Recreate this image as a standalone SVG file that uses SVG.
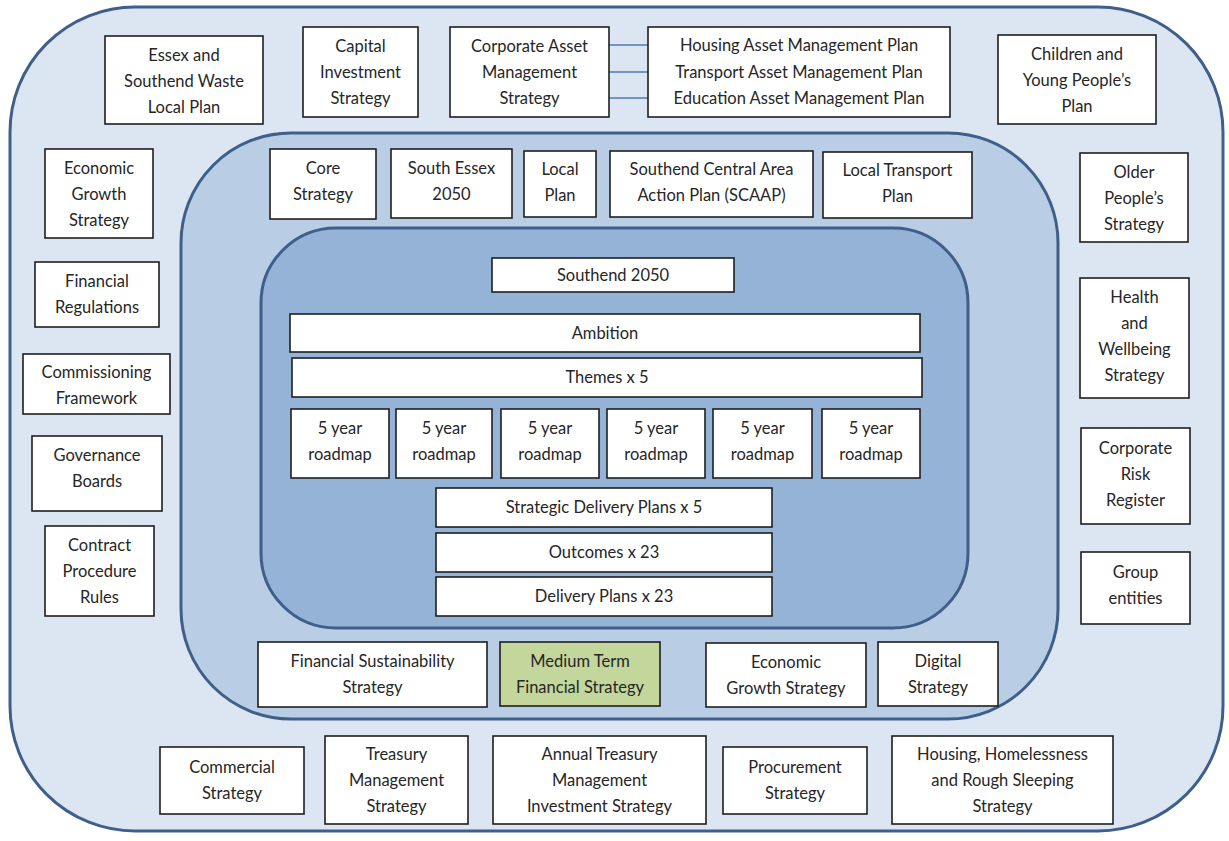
<svg xmlns="http://www.w3.org/2000/svg" width="1229" height="841" viewBox="0 0 1229 841">
<style>
.bg{fill:#ffffff}
.region{stroke:#3f5f8a;stroke-width:3}
.outer{fill:#dce6f2}
.middle{fill:#b9cde5}
.inner{fill:#95b3d7}
.box{fill:#ffffff;stroke:#1e1e1e;stroke-width:1.6}
.green{fill:#c3d69b}
text{font-family:Lato,"Liberation Sans",sans-serif;font-size:16.5px;fill:#262626;text-anchor:middle}
.conn{stroke:#4a7ab5;stroke-width:1.6;fill:none}
</style>
<rect class="bg" x="0" y="0" width="1229" height="841"/>
<g id="regions">
<rect class="region outer" x="10" y="7" width="1213" height="824" rx="125" ry="125"/>
<rect class="region middle" x="181" y="133" width="877" height="586" rx="110" ry="110"/>
<rect class="region inner" x="261" y="228" width="707" height="400" rx="75" ry="75"/>
</g>
<g id="connectors">
<line class="conn" x1="609" y1="45" x2="648" y2="45"/>
<line class="conn" x1="609" y1="72" x2="648" y2="72"/>
<line class="conn" x1="609" y1="98" x2="648" y2="98"/>
</g>
<g id="essex"><rect class="box" x="105" y="36" width="158" height="88"/><text x="184" y="61">Essex and</text><text x="184" y="87">Southend Waste</text><text x="184" y="113">Local Plan</text></g>
<g id="capital"><rect class="box" x="303" y="27" width="115" height="90"/><text x="360.5" y="52">Capital</text><text x="360.5" y="78">Investment</text><text x="360.5" y="104">Strategy</text></g>
<g id="corporate-asset"><rect class="box" x="450" y="27" width="159" height="90"/><text x="529.5" y="52">Corporate Asset</text><text x="529.5" y="78">Management</text><text x="529.5" y="104">Strategy</text></g>
<g id="asset-plans"><rect class="box" x="648" y="27" width="302" height="90"/><text x="799" y="51">Housing Asset Management Plan</text><text x="799" y="78">Transport Asset Management Plan</text><text x="799" y="104">Education Asset Management Plan</text></g>
<g id="children"><rect class="box" x="998" y="35" width="158" height="89"/><text x="1077" y="60">Children and</text><text x="1077" y="86">Young People’s</text><text x="1077" y="112">Plan</text></g>
<g id="economic-left"><rect class="box" x="45" y="149" width="108" height="89"/><text x="99" y="174">Economic</text><text x="99" y="200">Growth</text><text x="99" y="226">Strategy</text></g>
<g id="financial-regulations"><rect class="box" x="35" y="262" width="124" height="65"/><text x="97" y="287">Financial</text><text x="97" y="313">Regulations</text></g>
<g id="commissioning"><rect class="box" x="23" y="354" width="147" height="60"/><text x="96.5" y="378">Commissioning</text><text x="96.5" y="404">Framework</text></g>
<g id="governance"><rect class="box" x="32" y="436" width="130" height="75"/><text x="97" y="461">Governance</text><text x="97" y="487">Boards</text></g>
<g id="contract"><rect class="box" x="45" y="526" width="109" height="90"/><text x="99.5" y="551">Contract</text><text x="99.5" y="577">Procedure</text><text x="99.5" y="603">Rules</text></g>
<g id="older"><rect class="box" x="1080" y="153" width="108" height="89"/><text x="1134" y="178">Older</text><text x="1134" y="204">People’s</text><text x="1134" y="230">Strategy</text></g>
<g id="health"><rect class="box" x="1080" y="278" width="109" height="120"/><text x="1134.5" y="303">Health</text><text x="1134.5" y="329">and</text><text x="1134.5" y="355">Wellbeing</text><text x="1134.5" y="381">Strategy</text></g>
<g id="risk"><rect class="box" x="1081" y="428" width="109" height="96"/><text x="1135.5" y="454">Corporate</text><text x="1135.5" y="480">Risk</text><text x="1135.5" y="506">Register</text></g>
<g id="group"><rect class="box" x="1081" y="552" width="109" height="72"/><text x="1135.5" y="578">Group</text><text x="1135.5" y="604">entities</text></g>
<g id="commercial"><rect class="box" x="160" y="747" width="144" height="67"/><text x="232" y="773">Commercial</text><text x="232" y="799">Strategy</text></g>
<g id="treasury"><rect class="box" x="325" y="736" width="143" height="88"/><text x="396.5" y="760">Treasury</text><text x="396.5" y="786">Management</text><text x="396.5" y="812">Strategy</text></g>
<g id="annual-treasury"><rect class="box" x="493" y="736" width="213" height="88"/><text x="599.5" y="760">Annual Treasury</text><text x="599.5" y="786">Management</text><text x="599.5" y="812">Investment Strategy</text></g>
<g id="procurement"><rect class="box" x="723" y="747" width="144" height="67"/><text x="795" y="773">Procurement</text><text x="795" y="799">Strategy</text></g>
<g id="housing"><rect class="box" x="892" y="736" width="221" height="88"/><text x="1002.5" y="760">Housing, Homelessness</text><text x="1002.5" y="786">and Rough Sleeping</text><text x="1002.5" y="812">Strategy</text></g>
<g id="core"><rect class="box" x="270" y="149" width="106" height="70"/><text x="323" y="174">Core</text><text x="323" y="200">Strategy</text></g>
<g id="south-essex"><rect class="box" x="391" y="149" width="121" height="69"/><text x="451.5" y="174">South Essex</text><text x="451.5" y="200">2050</text></g>
<g id="local-plan"><rect class="box" x="524" y="151" width="72" height="66"/><text x="560" y="175">Local</text><text x="560" y="201">Plan</text></g>
<g id="scaap"><rect class="box" x="610" y="151" width="203" height="66"/><text x="711.5" y="175">Southend Central Area</text><text x="711.5" y="201">Action Plan (SCAAP)</text></g>
<g id="ltp"><rect class="box" x="823" y="152" width="149" height="66"/><text x="897.5" y="176">Local Transport</text><text x="897.5" y="202">Plan</text></g>
<g id="fin-sustainability"><rect class="box" x="258" y="642" width="229" height="65"/><text x="372.5" y="667">Financial Sustainability</text><text x="372.5" y="693">Strategy</text></g>
<g id="mtfs"><rect class="box green" x="500" y="642" width="160" height="64"/><text x="580" y="667">Medium Term</text><text x="580" y="693">Financial Strategy</text></g>
<g id="economic-mid"><rect class="box" x="706" y="643" width="160" height="64"/><text x="786" y="668">Economic</text><text x="786" y="694">Growth Strategy</text></g>
<g id="digital"><rect class="box" x="878" y="642" width="120" height="64"/><text x="938" y="667">Digital</text><text x="938" y="693">Strategy</text></g>
<g id="southend-2050"><rect class="box" x="492" y="258" width="242" height="34"/><text x="613" y="281">Southend 2050</text></g>
<g id="ambition"><rect class="box" x="290" y="314" width="630" height="38"/><text x="605" y="339">Ambition</text></g>
<g id="themes"><rect class="box" x="292" y="358" width="630" height="39"/><text x="607" y="383">Themes x 5</text></g>
<g id="roadmap-1"><rect class="box" x="291" y="409" width="98" height="69"/><text x="340" y="434">5 year</text><text x="340" y="460">roadmap</text></g>
<g id="roadmap-2"><rect class="box" x="396" y="409" width="96" height="69"/><text x="444" y="434">5 year</text><text x="444" y="460">roadmap</text></g>
<g id="roadmap-3"><rect class="box" x="501" y="409" width="98" height="69"/><text x="550" y="434">5 year</text><text x="550" y="460">roadmap</text></g>
<g id="roadmap-4"><rect class="box" x="607" y="409" width="98" height="69"/><text x="656" y="434">5 year</text><text x="656" y="460">roadmap</text></g>
<g id="roadmap-5"><rect class="box" x="713" y="409" width="99" height="69"/><text x="762.5" y="434">5 year</text><text x="762.5" y="460">roadmap</text></g>
<g id="roadmap-6"><rect class="box" x="822" y="409" width="98" height="69"/><text x="871" y="434">5 year</text><text x="871" y="460">roadmap</text></g>
<g id="strategic-delivery"><rect class="box" x="436" y="488" width="336" height="39"/><text x="604" y="513">Strategic Delivery Plans x 5</text></g>
<g id="outcomes"><rect class="box" x="436" y="533" width="336" height="39"/><text x="604" y="558">Outcomes x 23</text></g>
<g id="delivery"><rect class="box" x="436" y="577" width="336" height="39"/><text x="604" y="602">Delivery Plans x 23</text></g>
</svg>
